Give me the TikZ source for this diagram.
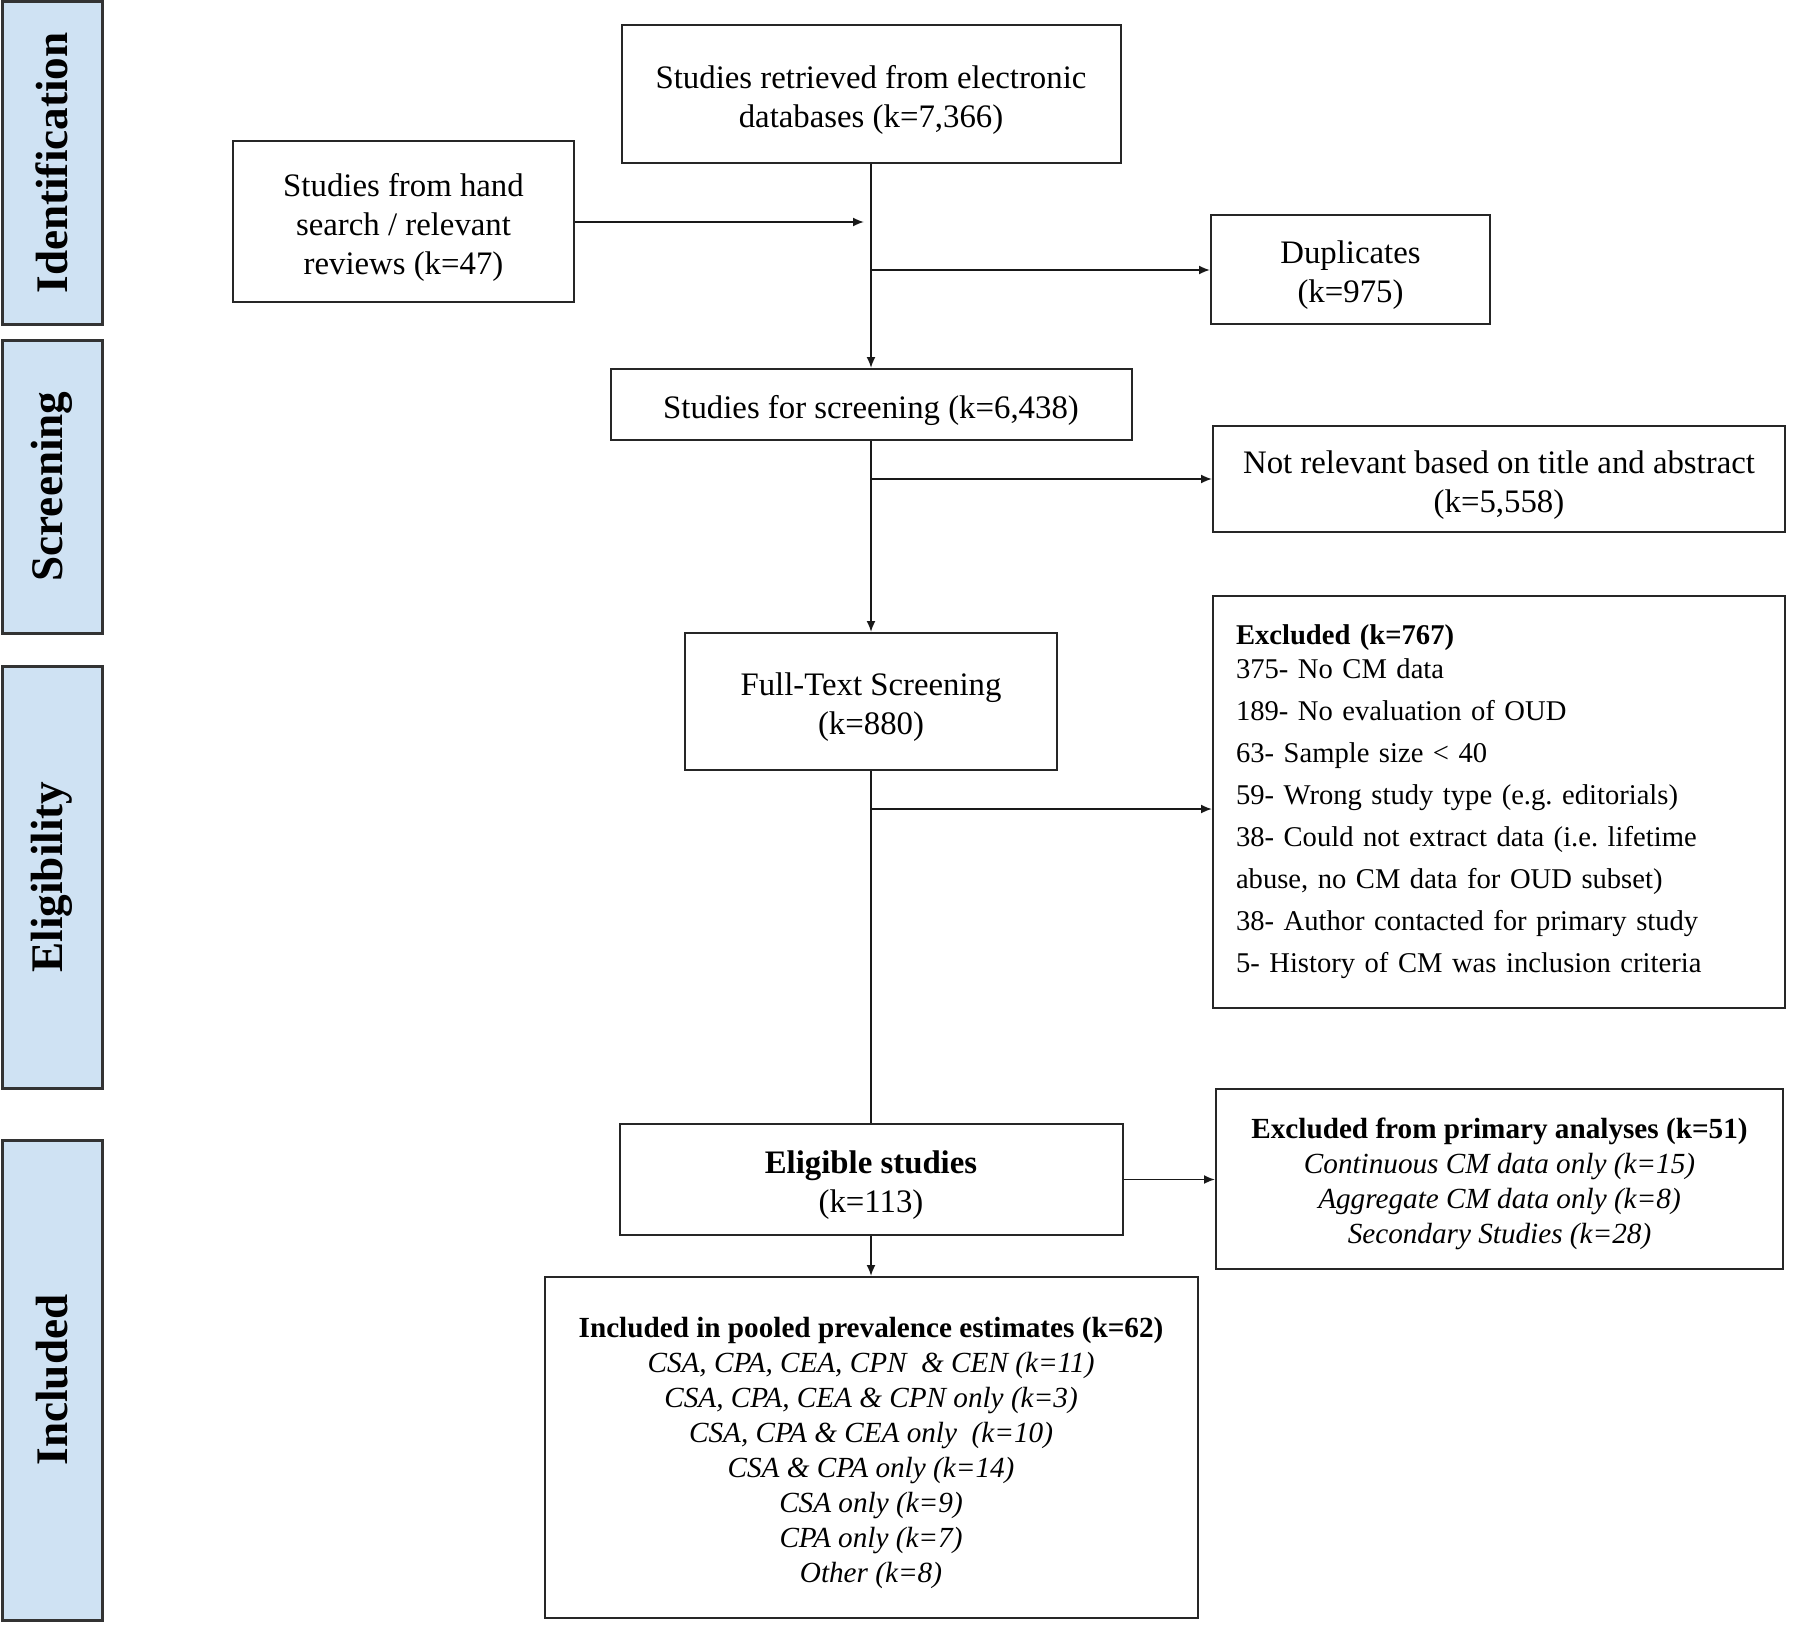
\documentclass[tikz,border=0pt]{standalone}
\usepackage{fontspec}
\setmainfont{Liberation Serif}
\usepackage{tikz}
\usetikzlibrary{arrows.meta,calc}
\definecolor{phaseblue}{RGB}{207,226,243}
\newcommand{\tgap}{\rule{0pt}{1.05em}}
\tikzset{
	flowbox/.style={draw=black!85, line width=1pt, fill=white, align=center, inner sep=0pt,
		font=\fontsize{16.4}{19.5}\selectfont},
	smallbox/.style={flowbox, font=\fontsize{14.6}{17.5}\selectfont},
	phase/.style={draw=black!80, line width=1.5pt, fill=phaseblue, rotate=90, inner sep=0pt,
		minimum height=50pt, font=\fontsize{22.6}{26}\selectfont\bfseries},
	flowline/.style={line width=0.9pt, black!90},
	flowarrow/.style={flowline, -{Latex[length=5.5pt,width=4.5pt]}}
}

\begin{document}
\begin{tikzpicture}[x=0.5pt, y=-0.5pt]
	\useasboundingbox (0,0) rectangle (1800,1627);
	% phase bands
	\node[phase, minimum width=161pt] (idf) at (52,163) {Identification};
	\node[phase, minimum width=146.5pt] (scrn) at (52,486.5) {Screening};
	\node[phase, minimum width=211pt] (elig) at (52,877) {Eligibility};
	\node[phase, minimum width=240pt] (incl) at (52,1380) {Included};
	% boxes
	\node[flowbox, minimum width=249.5pt, minimum height=69pt] (retr) at (871,94)
		{\tgap Studies retrieved from electronic\\databases (k=7,366)};
	\node[flowbox, minimum width=170.5pt, minimum height=80.5pt] (hand) at (403.5,221.5)
		{\tgap Studies from hand\\search / relevant\\reviews (k=47)};
	\node[flowbox, minimum width=139.5pt, minimum height=54.5pt] (dup) at (1350.5,269.5)
		{\tgap Duplicates\\(k=975)};
	\node[flowbox, minimum width=260.5pt, minimum height=35.5pt] (scr) at (871,404.5)
		{\tgap Studies for screening (k=6,438)};
	\node[flowbox, minimum width=286pt, minimum height=53pt] (notrel) at (1499,479)
		{\tgap Not relevant based on title and abstract\\(k=5,558)};
	\node[flowbox, minimum width=186pt, minimum height=68.5pt] (ftext) at (871,701.5)
		{\tgap Full-Text Screening\\(k=880)};
	\node[flowbox, align=left, text width=263pt, inner xsep=11.5pt, minimum height=206pt,
		font=\fontsize{14.3}{21}\selectfont] (excl) at (1499,802)
		{\textbf{Excluded (k=767)}\\[-4pt]
		375- No CM data\\
		189- No evaluation of OUD\\
		63- Sample size < 40\\
		59- Wrong study type (e.g.\ editorials)\\
		38- Could not extract data (i.e.\ lifetime\\
		abuse, no CM data for OUD subset)\\
		38- Author contacted for primary study\\
		5- History of CM was inclusion criteria};
	\node[flowbox, minimum width=251.5pt, minimum height=55.5pt] (elg) at (871,1179.5)
		{\tgap\textbf{Eligible studies}\\(k=113)};
	\node[smallbox, minimum width=283.5pt, minimum height=90pt] (excl51) at (1499.5,1179)
		{\tgap\textbf{Excluded from primary analyses (k=51)}\\
		\textit{Continuous CM data only (k=15)}\\
		\textit{Aggregate CM data only (k=8)}\\
		\textit{Secondary Studies (k=28)}};
	\node[smallbox, minimum width=326.5pt, minimum height=170.5pt] (pool) at (871,1447.5)
		{\tgap\textbf{Included in pooled prevalence estimates (k=62)}\\
		\textit{CSA, CPA, CEA, CPN\ \ \& CEN (k=11)}\\
		\textit{CSA, CPA, CEA \& CPN only (k=3)}\\
		\textit{CSA, CPA \& CEA only\ \ (k=10)}\\
		\textit{CSA \& CPA only (k=14)}\\
		\textit{CSA only (k=9)}\\
		\textit{CPA only (k=7)}\\
		\textit{Other (k=8)}};
	% junctions on the main line
	\coordinate (j0) at (864,222);
	\coordinate (j1) at (871,270);
	\coordinate (j2) at (871,479);
	\coordinate (j3) at (871,809);
	% connectors
	\draw[flowarrow] (retr) -- (scr);
	\draw[flowarrow] (hand.east |- j0) -- (j0);
	\draw[flowarrow] (j1) -- (j1 -| dup.west);
	\draw[flowarrow] (scr) -- (ftext);
	\draw[flowarrow] (j2) -- (j2 -| notrel.west);
	\draw[flowline] (ftext) -- (elg);
	\draw[flowarrow] (j3) -- (j3 -| excl.west);
	\draw[flowarrow] (elg.east) -- (elg.east -| excl51.west);
	\draw[flowarrow] (elg) -- (pool);
\end{tikzpicture}
\end{document}
